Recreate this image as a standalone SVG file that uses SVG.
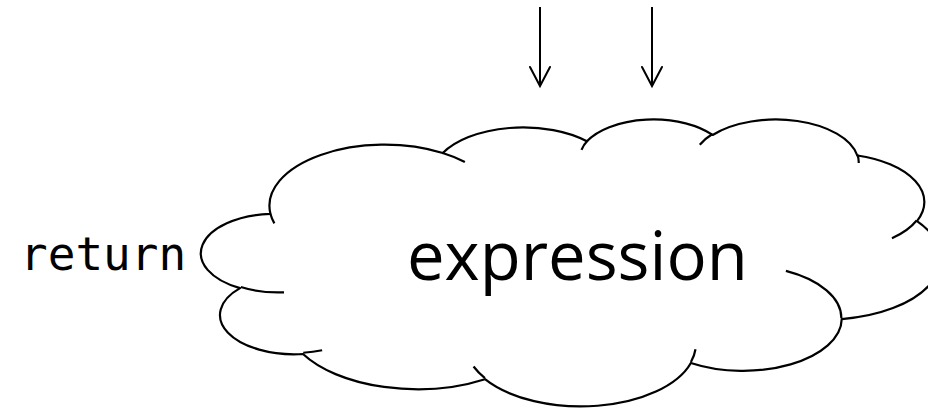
<svg xmlns="http://www.w3.org/2000/svg" width="928" height="408" viewBox="0 0 928 408">
  <style>
    .outline { fill: #ffffff; stroke: #000000; stroke-width: 2.2; stroke-linejoin: round; }
    .crease { fill: none; stroke: #000000; stroke-width: 2.2; stroke-linecap: butt; }
    .arrow { fill: none; stroke: #000000; stroke-width: 2; marker-end: url(#vhead); }
    .big { font-family: "Open Sans", "Noto Sans", "DejaVu Sans", sans-serif; font-size: 67px; fill: #000000; }
    .code { font-family: "DejaVu Sans Mono", "Liberation Mono", monospace; font-size: 46px; fill: #000000; }
  </style>
  <defs>
    <marker id="vhead" markerUnits="userSpaceOnUse" markerWidth="26" markerHeight="26" refX="21" refY="12" orient="auto">
      <path d="M2,2 L21,12 L2,22" fill="none" stroke="#000000" stroke-width="2" stroke-linecap="round" stroke-linejoin="miter"/>
    </marker>
  </defs>

  <!-- cloud node: eleven elliptical lobes -->
  <g id="expression">
    <path class="outline" d="M270.50,213.92
      A115.14,61.02 0 0 1 442.79,153.04
      A90.93,48.25 0 0 1 586.87,141.29
      A74.42,39.47 0 0 1 712.65,134.97
      A82.81,43.79 0 0 1 857.32,155.52
      A90.93,48.29 0 0 1 917.00,221.15
      A115.51,61.22 0 0 1 841.74,319.05
      A98.63,52.24 0 0 1 690.87,362.94
      A115.12,61.19 0 0 1 484.99,379.21
      A131.63,70.01 0 0 1 302.97,354.02
      A74.34,39.30 0 0 1 240.03,288.14
      A74.08,39.47 0 0 1 270.50,213.92 Z"/>
    <!-- inner lobe creases -->
    <path class="crease" d="M284.02,292.32 A74.08,39.47 0 0 1 240.83,287.02
      M322.12,350.23 A74.34,39.30 0 0 1 303.23,352.76
      M484.95,378.06 A115.12,61.19 0 0 1 473.56,366.50
      M695.50,349.25 A115.12,61.19 0 0 1 690.95,361.92
      M785.90,270.91 A98.63,52.24 0 0 1 841.34,318.30
      M916.66,220.45 A90.93,48.29 0 0 1 891.97,238.22
      M857.42,154.53 A82.81,43.79 0 0 1 858.73,162.92
      M699.78,144.74 A82.81,43.79 0 0 1 712.42,134.04
      M581.50,149.84 A74.42,39.47 0 0 1 587.63,140.61
      M442.70,152.97 A115.14,61.02 0 0 1 464.87,161.93
      M274.37,223.34 A115.14,61.02 0 0 1 270.50,213.92"/>
    <text class="big" x="407" y="280">expression</text>
  </g>

  <g id="return">
    <text class="code" x="20" y="270">return</text>
  </g>

  <!-- incoming arrows -->
  <g id="connectors">
    <line class="arrow" x1="540" y1="7" x2="540" y2="86"/>
    <line class="arrow" x1="652" y1="7" x2="652" y2="86"/>
  </g>
</svg>
